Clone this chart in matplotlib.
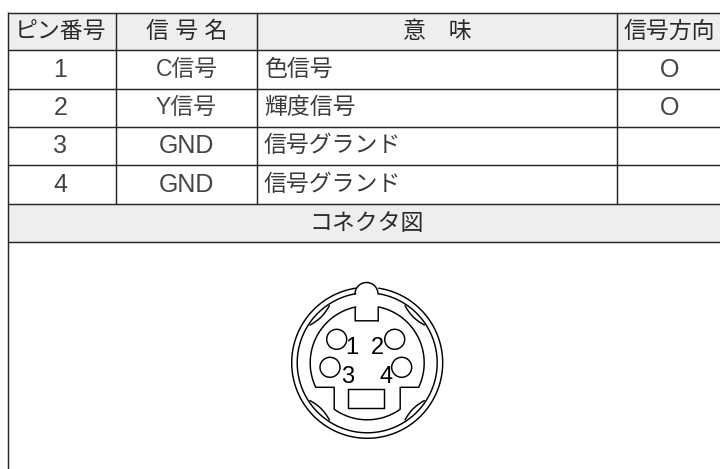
import numpy as np
import matplotlib
matplotlib.use("Agg")
import matplotlib.pyplot as plt
from matplotlib.patches import Circle, Rectangle

FAMILY = ['Liberation Sans', 'Noto Sans CJK JP', 'DejaVu Sans']
plt.rcParams['font.family'] = FAMILY

headers = ["ピン番号", "信 号 名", "意\u3000味", "信号方向"]
pins = ["1", "2", "3", "4"]
signals = ["C信号", "Y信号", "GND", "GND"]
meanings = ["色信号", "輝度信号", "信号グランド", "信号グランド"]
directions = ["O", "O", "", ""]
connector_title = "コネクタ図"
pin_labels = ["1", "2", "3", "4"]

W, H = 720, 469
col_x = [7.5, 115.5, 257.2, 616.8]
row_y = [13, 50.5, 88.6, 126.8, 165, 204.2, 241.8]
col_cx = [60.5, 186.5, 437, 669.5]
INK = "#262626"
GREY = "#eeeeee"
FS = 16.5
FS_LATIN = 18

fig = plt.figure(figsize=(W/100, H/100), dpi=100)
ax = fig.add_axes([0, 0, 1, 1])
ax.set_xlim(0, W); ax.set_ylim(H, 0); ax.axis("off")

for top, bottom in [(row_y[0], row_y[1]), (row_y[5], row_y[6])]:
    ax.add_patch(Rectangle((col_x[0], top), W - col_x[0], bottom - top, fc=GREY, ec="none"))
for y in row_y:
    ax.plot([col_x[0], W], [y, y], color=INK, lw=1.05, solid_capstyle="butt")
ax.plot([col_x[0]] * 2, [row_y[0] - 0.7, H], color=INK, lw=1.05, solid_capstyle="butt")
for x in col_x[1:]:
    ax.plot([x, x], [row_y[0], row_y[5]], color=INK, lw=1.05, solid_capstyle="butt")

def put(x, y, s, ha="center", size=FS, color="#2a2a2a"):
    ax.text(x, y, s, ha=ha, va="center", fontsize=size, color=color)

mid = [(a + b) / 2 for a, b in zip(row_y[:-1], row_y[1:])]
for x, h in zip(col_cx, headers):
    put(x, mid[0], h)
for r in range(4):
    y = mid[r + 1]
    put(col_cx[0], y, pins[r], size=FS_LATIN, color="#444444")
    put(col_cx[1], y, signals[r], size=FS_LATIN if signals[r] == "GND" else FS, color="#444444")
    put(264, y, meanings[r], ha="left", color="#3a3a3a")
    if directions[r]:
        put(col_cx[3], y, directions[r], size=FS_LATIN, color="#444444")
put(367, mid[5], connector_title)

# ---- connector drawing ----
X0, Y0 = 367.2, 362.8
R1, R2, R3 = 75.5, 70.0, 57.0
lw = 1.05
line = dict(color="black", lw=lw, solid_capstyle="round", solid_joinstyle="round")

def ring(r, start, stop):
    a = np.deg2rad(np.linspace(start, stop, 200))
    return X0 + r * np.cos(a), Y0 + r * np.sin(a)

# outer and second ring, open where the top key passes (angles: y grows downward)
kx = 11.5
for r in (R1, R2):
    gap = np.rad2deg(np.arcsin(kx / r))
    ax.plot(*ring(r, -90 + gap, 270 - gap), **line)

# top key cap
t = np.deg2rad(np.linspace(180, 360, 80))
ky = 294.0
ax.plot(X0 - 0.7 + kx * np.cos(t), ky + kx * np.sin(t), **line)

# inner contour with top notch and bottom step
nx, ny = 11.5, 320.8
sy = 387.3
sx = 33.0
a_notch = np.rad2deg(np.arcsin(nx / R3))
a_step = np.rad2deg(np.arcsin((sy - Y0) / R3))
a_low = np.rad2deg(np.arccos(sx / R3))
xs = [X0 - 0.5 + nx, X0 - 0.5 + nx]
ys = [ny, Y0 - R3 * np.cos(np.deg2rad(a_notch))]
x1, y1 = ring(R3, -90 + a_notch, a_step)
x2, y2 = ring(R3, a_low, 180 - a_low)
x3, y3 = ring(R3, 180 - a_step, 270 - a_notch)
px = np.r_[xs, x1, X0 + sx, x2, X0 - sx, x3, X0 - 0.5 - nx, X0 - 0.5 - nx, X0 - 0.5 + nx]
py = np.r_[ys, y1, sy, y2, sy, y3, ny - 12.4 + 0, ny, ny]
ax.plot(px, py, **line)

# lower rectangular contact
ax.add_patch(Rectangle((348.4, 389.3), 36, 19, fc="white", ec="black", lw=lw))

# pin holes
for cx_, cy_ in [(336.7, 339.3), (394.7, 339.3), (330.0, 367.3), (401.7, 367.3)]:
    ax.add_patch(Circle((cx_, cy_), 10, fc="white", ec="black", lw=lw, zorder=3))

# lens-shaped marks on the second ring
half = 11.5
for c in (-135, -45, 45, 135):
    s = np.linspace(-1, 1, 40)
    a = np.deg2rad(c + half * s)
    r = R2 - 1.5 - 3.5 * (1 - s ** 2)
    ax.plot(X0 + r * np.cos(a), Y0 + r * np.sin(a), **line)

for (x, y), s in zip([(352.3, 347.8), (377.3, 348.0), (347.3, 377), (385.7, 377.2)], pin_labels):
    ax.text(x, y, s, ha="center", va="center", fontsize=17, color="black", zorder=5)

fig.savefig("out.png", dpi=100)
